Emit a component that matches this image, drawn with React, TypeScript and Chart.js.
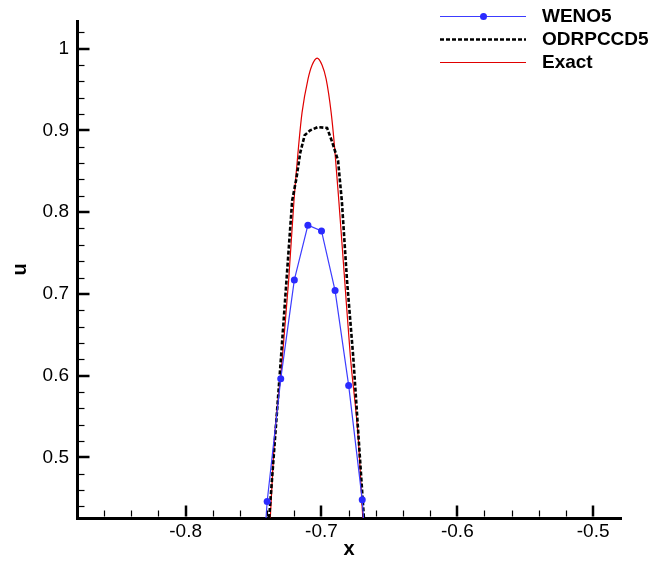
import { useEffect, useRef } from "react";
import { Chart, registerables } from "chart.js";

Chart.register(...registerables);

const FONT = '"Liberation Sans", Arial, Helvetica, sans-serif';

// WENO5 (blue, circle markers)
const wenoX = [-0.75, -0.74, -0.73, -0.72, -0.71, -0.7, -0.69, -0.68, -0.67, -0.66];
const wenoU = [0.2, 0.446, 0.596, 0.717, 0.784, 0.777, 0.704, 0.588, 0.448, 0.2];

// ODRPCCD5 (black dashed)
const odrX = [-0.745, -0.7384, -0.7298, -0.7216, -0.7185, -0.7156, -0.7124, -0.7083, -0.7028, -0.6959, -0.6922, -0.6878, -0.685, -0.6812, -0.6766, -0.6689, -0.663];
const odrU = [0.25, 0.429, 0.6225, 0.814, 0.841, 0.873, 0.894, 0.9, 0.904, 0.903, 0.886, 0.863, 0.813, 0.716, 0.6225, 0.429, 0.25];

// Exact (red)
const exactX = [-0.745, -0.7376, -0.7345, -0.729, -0.7242, -0.7203, -0.7168, -0.7143, -0.7099, -0.7069, -0.7032, -0.6996, -0.6966, -0.6929, -0.6905, -0.6872, -0.6829, -0.6787, -0.673, -0.6697, -0.662];
const exactU = [0.2, 0.429, 0.5245, 0.618, 0.716, 0.813, 0.882, 0.922, 0.963, 0.98, 0.9885, 0.98, 0.963, 0.922, 0.882, 0.813, 0.716, 0.6225, 0.5245, 0.429, 0.2];

const xMajor = [-0.8, -0.7, -0.6, -0.5];
const xMinor = [-0.86, -0.84, -0.82, -0.78, -0.76, -0.74, -0.72, -0.68, -0.66, -0.64, -0.62, -0.58, -0.56, -0.54, -0.52];
const yMajor = [0.5, 0.6, 0.7, 0.8, 0.9, 1.0];
const yMinor = [0.44, 0.46, 0.48, 0.52, 0.54, 0.56, 0.58, 0.62, 0.64, 0.66, 0.68, 0.72, 0.74, 0.76, 0.78, 0.82, 0.84, 0.86, 0.88, 0.92, 0.94, 0.96, 0.98, 1.02];

const legendNames = ["WENO5", "ODRPCCD5", "Exact"];

const BLUE_LINE = "#3c3cff";
const BLUE_MARK = "#2a2aff";
const RED = "#e00000";

const pts = (xs: number[], ys: number[]) => xs.map((x, i) => ({ x, y: ys[i] }));
const fmt = (v: number) => String(Math.round(v * 100) / 100);

const decorPlugin = {
  id: "decor",
  afterDraw(chart: any) {
    const ctx = chart.ctx as CanvasRenderingContext2D;
    const xs = chart.scales.x;
    const ys = chart.scales.y;
    const { left, bottom } = chart.chartArea;
    ctx.save();
    ctx.strokeStyle = "#000";
    const seg = (x1: number, y1: number, x2: number, y2: number, w: number) => {
      ctx.lineWidth = w;
      ctx.beginPath();
      ctx.moveTo(x1, y1);
      ctx.lineTo(x2, y2);
      ctx.stroke();
    };
    const edgeB = bottom - 1.5;
    const edgeL = left + 1.5;
    for (const v of xMajor) {
      const p = Math.round(xs.getPixelForValue(v));
      seg(p, edgeB, p, edgeB - 11, 2.5);
    }
    for (const v of xMinor) {
      const p = Math.round(xs.getPixelForValue(v)) + 0.5;
      seg(p, edgeB, p, edgeB - 6, 1.2);
    }
    for (const v of yMajor) {
      const p = Math.round(ys.getPixelForValue(v));
      seg(edgeL, p, edgeL + 11, p, 2.5);
    }
    for (const v of yMinor) {
      const p = Math.round(ys.getPixelForValue(v)) + 0.5;
      seg(edgeL, p, edgeL + 6, p, 1.2);
    }

    // legend
    const ds = chart.data.datasets;
    const rowsY = [16, 39, 62];
    const x1 = 440;
    const x2 = 526;
    ds.forEach((d: any, i: number) => {
      const y = rowsY[i] + 0.5;
      ctx.strokeStyle = d.borderColor;
      ctx.lineWidth = d.borderWidth;
      ctx.setLineDash(d.borderDash || []);
      ctx.beginPath();
      ctx.moveTo(x1, y);
      ctx.lineTo(x2, y);
      ctx.stroke();
      ctx.setLineDash([]);
      if (d.pointRadius > 0) {
        ctx.fillStyle = d.pointBackgroundColor;
        ctx.beginPath();
        ctx.arc((x1 + x2) / 2 + 0.5, y, d.pointRadius, 0, Math.PI * 2);
        ctx.fill();
      }
      ctx.fillStyle = "#000";
      ctx.font = `bold 19px ${FONT}`;
      ctx.textBaseline = "middle";
      ctx.textAlign = "left";
      ctx.fillText(legendNames[i], 542, rowsY[i] + 0.5);
    });
    ctx.restore();
  },
};

export default function App() {
  const ref = useRef<HTMLCanvasElement | null>(null);
  useEffect(() => {
    if (!ref.current) return;
    const chart = new Chart(ref.current, {
      type: "line",
      data: {
        datasets: [
          {
            label: legendNames[0],
            data: pts(wenoX, wenoU),
            borderColor: BLUE_LINE,
            borderWidth: 1.2,
            pointRadius: 3.5,
            pointBackgroundColor: BLUE_MARK,
            pointBorderWidth: 0,
            pointBorderColor: BLUE_MARK,
            tension: 0,
            fill: false,
          },
          {
            label: legendNames[1],
            data: pts(odrX, odrU),
            borderColor: "#000",
            borderWidth: 2.6,
            borderDash: [4, 2],
            pointRadius: 0,
            tension: 0,
            fill: false,
          },
          {
            label: legendNames[2],
            data: pts(exactX, exactU),
            borderColor: RED,
            borderWidth: 1.2,
            pointRadius: 0,
            cubicInterpolationMode: "monotone",
            fill: false,
          },
        ],
      },
      options: {
        animation: false,
        responsive: false,
        parsing: false as any,
        layout: { padding: { top: 21, right: 37, left: 0, bottom: 0 } },
        plugins: { legend: { display: false }, tooltip: { enabled: false } },
        scales: {
          x: {
            type: "linear",
            min: -0.88,
            max: -0.4795,
            afterFit: (s: any) => {
              s.height = 48;
            },
            afterBuildTicks: (s: any) => {
              s.ticks = xMajor.map((v) => ({ value: v }));
            },
            grid: { display: false, drawTicks: false },
            border: { display: true, color: "#000", width: 3 },
            ticks: {
              padding: 2,
              color: "#000",
              font: { family: FONT, size: 19 },
              maxRotation: 0,
              callback: (v: any) => fmt(Number(v)),
            },
            title: {
              display: true,
              text: "x",
              color: "#000",
              font: { family: FONT, size: 20, weight: "bold" },
              padding: { top: 0, bottom: 5 },
            },
          },
          y: {
            type: "linear",
            min: 0.4258,
            max: 1.0338,
            afterFit: (s: any) => {
              s.width = 77;
            },
            afterBuildTicks: (s: any) => {
              s.ticks = yMajor.map((v) => ({ value: v }));
            },
            grid: { display: false, drawTicks: false },
            border: { display: true, color: "#000", width: 3 },
            ticks: {
              padding: 8,
              color: "#000",
              font: { family: FONT, size: 19 },
              callback: (v: any) => fmt(Number(v)),
            },
            title: {
              display: true,
              text: "u",
              color: "#000",
              font: { family: FONT, size: 20, weight: "bold" },
              padding: { top: 8, bottom: 0 },
            },
          },
        },
      },
      plugins: [decorPlugin],
    });
    return () => chart.destroy();
  }, []);
  return (
    <div style={{ position: "fixed", left: 0, top: 0, width: 658, height: 566, background: "#fff" }}>
      <canvas ref={ref} width={658} height={566} style={{ display: "block" }} />
    </div>
  );
}
